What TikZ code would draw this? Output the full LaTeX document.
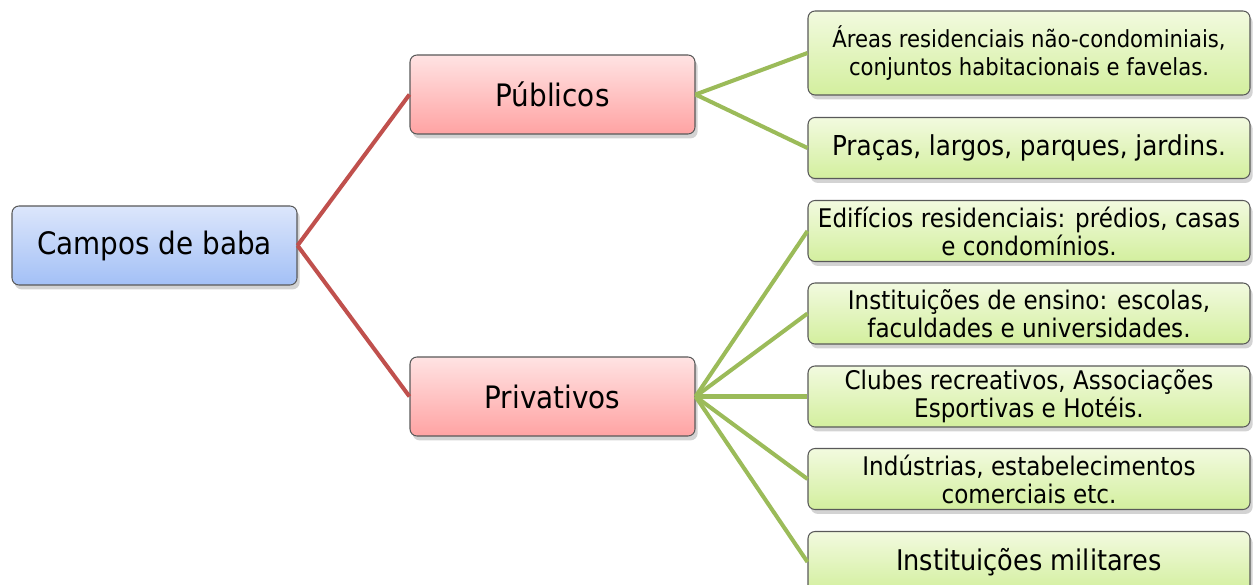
\documentclass[tikz,border=0pt]{standalone}
\usepackage{fontspec}
\setmainfont{DejaVu Sans}[FakeStretch=0.9]
\usetikzlibrary{shadows}

\definecolor{raiz}{HTML}{A3C0F6}
\definecolor{raizclara}{HTML}{DCE6FB}
\definecolor{tipo}{HTML}{FFA3A3}
\definecolor{tipoclaro}{HTML}{FFE3E3}
\definecolor{local}{HTML}{D3EF9E}
\definecolor{localclaro}{HTML}{F2FADF}
\definecolor{ramo}{HTML}{C0504D}
\definecolor{galho}{HTML}{9BBB59}

\begin{document}
\begin{tikzpicture}[
	caixa/.style={draw=black!65, line width=0.6pt, rounded corners=4pt, align=center,
		inner sep=0pt, drop shadow={shadow xshift=1.5pt, shadow yshift=-2.5pt, opacity=0.35}},
	raizbox/.style={caixa, top color=raizclara, bottom color=raiz, minimum width=5.7cm, minimum height=1.58cm, font=\fontsize{17.6}{20}\selectfont},
	tipobox/.style={caixa, top color=tipoclaro, bottom color=tipo, minimum width=5.7cm, minimum height=1.58cm, font=\fontsize{17.6}{20}\selectfont},
	localbox/.style={caixa, top color=localclaro, bottom color=local, minimum width=8.84cm, minimum height=1.22cm, font=\fontsize{14.6}{15.9}\selectfont},
	ramolinha/.style={draw=ramo, line width=2.3pt},
	galholinha/.style={draw=galho, line width=2.3pt}
	]
	\useasboundingbox (0,0) rectangle (25.06,-11.7);

	\node[raizbox] (campos) at (3.09,-4.91) {Campos de baba};
	\node[tipobox] (publicos) at (11.05,-1.89) {Públicos};
	\node[tipobox] (privativos) at (11.05,-7.93) {Privativos};

	\node[localbox, minimum height=1.68cm, font=\fontsize{13.4}{15.6}\selectfont] (areas) at (20.58,-1.06) {Áreas residenciais não-condominiais,\\conjuntos habitacionais e favelas.};
	\node[localbox, font=\fontsize{15.6}{18}\selectfont] (pracas) at (20.58,-2.96) {Praças, largos, parques, jardins.};
	\node[localbox] (edificios) at (20.58,-4.62) {Edifícios residenciais: prédios, casas\\e condomínios.};
	\node[localbox] (ensino) at (20.58,-6.27) {Instituições de ensino: escolas,\\faculdades e universidades.};
	\node[localbox] (clubes) at (20.58,-7.93) {Clubes recreativos, Associações\\Esportivas e Hotéis.};
	\node[localbox] (industrias) at (20.58,-9.58) {Indústrias, estabelecimentos\\comerciais etc.};
	\node[localbox, font=\fontsize{16.2}{18}\selectfont] (militares) at (20.58,-11.24) {Instituições militares};

	\draw[ramolinha] (campos.east) -- (publicos.west);
	\draw[ramolinha] (campos.east) -- (privativos.west);

	\foreach \alvo in {areas,pracas}
		\draw[galholinha] (publicos.east) -- (\alvo.west);
	\foreach \alvo in {edificios,ensino,clubes,industrias,militares}
		\draw[galholinha] (privativos.east) -- (\alvo.west);
\end{tikzpicture}
\end{document}
